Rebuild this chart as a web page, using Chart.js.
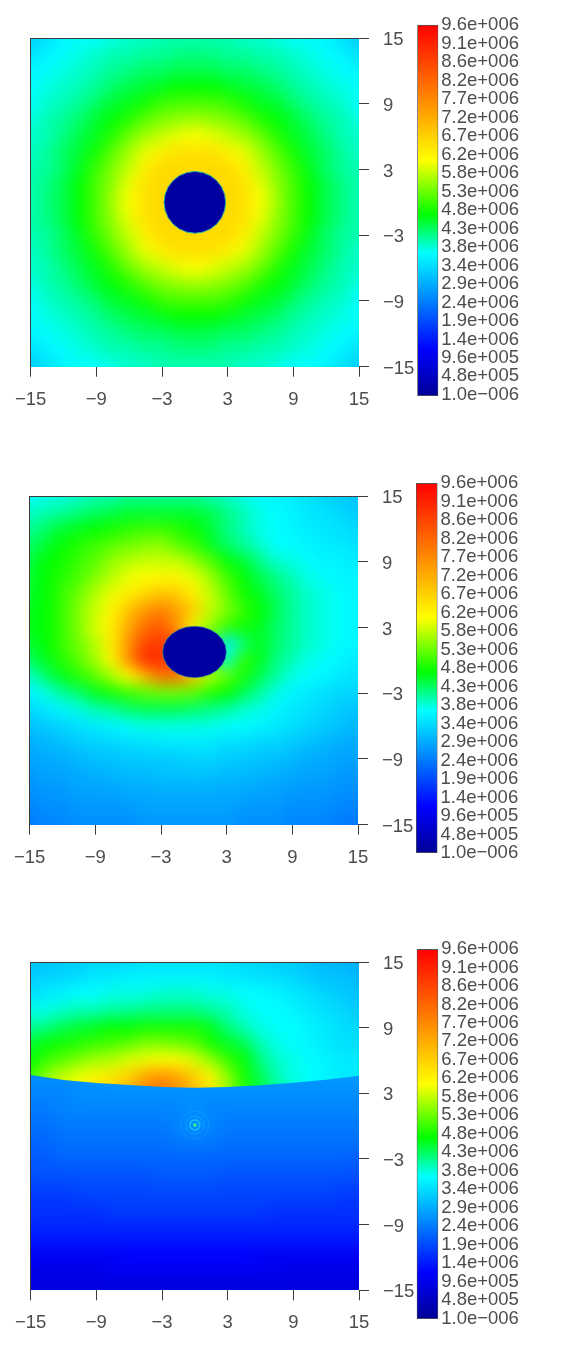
<!DOCTYPE html>
<html>
<head>
<meta charset="utf-8">
<style>
html,body{margin:0;padding:0;background:#fff;}
body{position:relative;width:562px;height:1363px;overflow:hidden;}
canvas{position:absolute;display:block;}
</style>
<script src="https://cdn.jsdelivr.net/npm/chart.js@4/dist/chart.umd.js"></script>
</head>
<body>
<script>
// Field values are in units of 1e5; rows run from the top (y=15) downwards, columns from x=-15 to x=15.
const xCoords = [-15,-13.5,-12,-10.5,-9,-7.5,-6,-4.5,-3,-1.5,0,1.5,3,4.5,6,7.5,9,10.5,12,13.5,15];
const yCoords = [15,13.5,12,10.5,9,7.5,6,4.5,3,1.5,0,-1.5,-3,-4.5,-6,-7.5,-9,-10.5,-12,-13.5,-15];
const tickValues = [-15,-9,-3,3,9,15];
const colorbarLabels = ["9.6e+006","9.1e+006","8.6e+006","8.2e+006","7.7e+006","7.2e+006","6.7e+006","6.2e+006","5.8e+006","5.3e+006","4.8e+006","4.3e+006","3.8e+006","3.4e+006","2.9e+006","2.4e+006","1.9e+006","1.4e+006","9.6e+005","4.8e+005","1.0e\u2212006"];
// value (1e5), r, g, b of the colour bar read from bottom to top
const colorStops = [[0,0,0,150],[12,0,0,255],[37,0,255,255],[47,0,255,0],[61,255,255,0],[78,255,128,0],[96,255,0,0]];

const panel1Rows = [
[32,34,36,37,37,38,39,39,40,40,40,40,40,39,39,38,37,37,36,34,32],
[34,36,37,38,39,40,40,41,41,42,42,42,41,41,40,40,39,38,37,36,34],
[36,37,38,39,40,41,42,43,43,44,44,44,43,43,42,41,40,39,38,37,36],
[37,38,39,40,41,43,44,45,46,47,47,47,46,45,44,43,41,40,39,38,37],
[37,39,40,41,43,45,46,48,50,51,51,51,50,48,46,45,43,41,40,39,37],
[38,40,41,43,45,47,49,52,54,55,56,55,54,52,49,47,45,43,41,40,38],
[39,40,42,44,46,49,53,56,58,60,61,60,58,56,53,49,46,44,42,40,39],
[39,41,43,45,48,52,56,60,63,65,65,65,63,60,56,52,48,45,43,41,39],
[40,41,43,46,50,54,58,63,66,66,66,66,66,63,58,54,50,46,43,41,40],
[40,42,44,47,51,55,60,65,66,66,66,66,66,65,60,55,51,47,44,42,40],
[40,42,44,47,51,56,61,65,66,66,66,66,66,65,61,56,51,47,44,42,40],
[40,42,44,47,51,55,60,65,66,66,66,66,66,65,60,55,51,47,44,42,40],
[40,41,43,46,50,54,58,63,66,66,66,66,66,63,58,54,50,46,43,41,40],
[39,41,43,45,48,52,56,60,63,65,65,65,63,60,56,52,48,45,43,41,39],
[39,40,42,44,46,49,53,56,58,60,61,60,58,56,53,49,46,44,42,40,39],
[38,40,41,43,45,47,49,52,54,55,56,55,54,52,49,47,45,43,41,40,38],
[37,39,40,41,43,45,46,48,50,51,51,51,50,48,46,45,43,41,40,39,37],
[37,38,39,40,41,43,44,45,46,47,47,47,46,45,44,43,41,40,39,38,37],
[36,37,38,39,40,41,42,43,43,44,44,44,43,43,42,41,40,39,38,37,36],
[34,36,37,38,39,40,40,41,41,42,42,42,41,41,40,40,39,38,37,36,34],
[32,34,36,37,37,38,39,39,40,40,40,40,40,39,39,38,37,37,36,34,32]
];
const panel2Rows = [
[37,38,38,39,40,40,41,41,41,41,41,40,39,38,37,36,35,34,33,32,31],
[39,40,41,42,43,44,45,45,45,45,45,44,42,40,38,37,36,35,34,33,32],
[41,43,45,46,47,48,49,50,50,49,47,45,42,40,38,37,36,35,35,34,33],
[43,45,47,49,50,52,53,54,55,52,50,46,43,41,39,37,37,36,35,35,34],
[44,47,48,50,52,55,57,58,58,58,55,52,47,45,42,39,38,37,36,36,35],
[45,47,49,51,54,57,60,61,62,62,60,56,51,47,44,42,40,38,37,36,36],
[45,47,50,53,57,60,63,66,69,68,63,58,53,48,46,43,41,39,38,37,36],
[46,47,50,54,58,62,69,75,78,74,68,58,54,50,47,44,41,39,38,37,36],
[46,47,50,54,59,63,72,80,84,75,60,55,50,48,46,43,41,39,38,37,36],
[45,47,50,53,57,63,75,86,88,85,70,50,35,42,46,43,41,39,38,37,36],
[43,46,49,52,56,62,75,90,90,85,70,50,38,50,46,42,40,38,37,36,35],
[39,43,46,49,52,56,61,70,80,80,70,57,53,48,44,41,38,37,36,35,34],
[36,38,41,43,46,48,50,52,53,53,52,49,47,44,41,38,36,35,34,33,33],
[33,35,36,38,40,41,43,44,44,44,43,42,41,39,38,36,35,34,33,32,31],
[31,32,33,34,35,36,37,38,38,38,38,38,37,37,36,35,34,33,32,31,30],
[29,30,31,32,33,33,34,34,35,35,35,35,34,34,33,33,32,31,30,29,29],
[28,29,29,30,31,31,32,32,32,32,33,33,32,32,31,31,30,29,29,28,28],
[27,28,28,29,29,30,30,30,31,31,31,31,30,30,30,29,29,28,28,27,27],
[26,27,27,28,28,28,29,29,29,29,29,29,29,29,28,28,27,27,27,26,26],
[25,26,26,27,27,27,27,28,28,28,28,28,28,27,27,27,26,26,26,25,25],
[24,25,25,26,26,26,26,27,27,27,27,27,27,26,26,26,25,25,25,24,24]
];
// Panel 3: the field above the shock arc (rows y=15 .. 1.5)
const panel3UpperRows = [
[31,31,32,32,33,33,33,34,34,34,34,34,34,33,33,32,32,31,30,30,29],
[32,33,33,34,35,35,36,36,36,36,36,36,35,35,34,34,33,32,31,31,30],
[34,35,36,37,37,38,38,38,39,39,39,38,38,37,37,36,35,34,33,32,31],
[38,38,39,40,40,41,41,42,42,42,42,41,40,38,37,37,36,35,34,33,32],
[41,42,44,45,46,47,47,48,48,48,48,46,42,40,38,37,37,36,35,34,33],
[45,47,48,49,50,51,52,54,54,53,52,48,46,44,40,38,37,36,35,34,34],
[47,50,52,54,56,57,59,60,61,61,59,55,50,47,42,39,38,37,36,35,35],
[50,55,58,60,62,64,67,73,76,73,68,62,55,48,44,40,38,37,36,35,35],
[52,57,60,62,65,68,72,78,80,76,70,64,56,49,45,41,39,37,36,35,35],
[52,57,60,62,65,68,72,78,80,76,70,64,56,49,45,41,39,37,36,35,35]
];
// Panel 3: the field below the shock arc (rows y=6 .. -15)
const panel3LowerRows = [
[26,26,26,26,27,27,27,27,27,27,27,27,27,27,27,27,27,27,27,27,27],
[26,26,26,26,26,27,27,27,27,27,27,27,27,27,27,27,27,27,27,27,27],
[25,25,25,26,26,26,26,26,26,26,26,26,26,26,26,26,26,26,26,26,26],
[24,24,25,25,25,25,25,25,25,25,26,25,25,25,25,25,25,25,25,25,25],
[23,23,24,24,24,24,24,24,24,25,26,25,24,24,24,24,24,24,24,24,24],
[22,22,23,23,23,23,23,23,23,24,24,24,23,23,23,23,23,23,23,23,23],
[21,21,22,22,22,22,22,22,22,22,22,22,22,22,22,22,22,22,22,22,21],
[20,20,20,20,20,20,20,20,21,21,21,21,20,20,20,20,20,20,20,20,20],
[18,18,18,19,19,19,19,19,19,19,19,19,19,19,19,19,19,19,19,18,18],
[17,17,17,17,17,18,18,18,18,18,18,18,18,18,18,17,17,17,17,17,17],
[16,16,16,16,16,16,16,16,16,16,16,16,16,16,16,16,16,16,16,16,16],
[14,14,14,14,14,14,14,14,14,14,14,14,14,14,14,14,14,14,14,14,14],
[11,11,11,11,11,11,12,12,12,12,12,12,12,12,11,11,11,11,11,11,11],
[9,9,9,9,9,10,10,10,10,10,10,10,10,10,10,10,9,9,9,9,9],
[8,8,8,8,8,8,8,8,8,8,8,8,8,8,8,8,8,8,8,8,8]
];
const disc1Outline = [[2.82,0],[2.72,.73],[2.44,1.41],[1.99,1.99],[1.41,2.44],[.73,2.72],[0,2.82],[-.73,2.72],[-1.41,2.44],[-1.99,1.99],[-2.44,1.41],[-2.72,.73],[-2.82,0],[-2.72,-.73],[-2.44,-1.41],[-1.99,-1.99],[-1.41,-2.44],[-.73,-2.72],[0,-2.82],[.73,-2.72],[1.41,-2.44],[1.99,-1.99],[2.44,-1.41],[2.72,-.73],[2.82,0]];
const disc2Outline = [[2.97,.76],[2.87,1.37],[2.58,1.94],[2.12,2.42],[1.52,2.80],[.81,3.03],[.06,3.11],[-.69,3.03],[-1.40,2.80],[-2.0,2.42],[-2.46,1.94],[-2.75,1.37],[-2.85,.76],[-2.75,.15],[-2.46,-.42],[-2.0,-.90],[-1.40,-1.28],[-.69,-1.51],[.06,-1.59],[.81,-1.51],[1.52,-1.28],[2.12,-.90],[2.58,-.42],[2.87,.15],[2.97,.76]];
const shockArc = [[-15,4.67],[-12,4.22],[-9,3.94],[-6,3.76],[-3,3.58],[0,3.52],[3,3.58],[6,3.73],[9,3.97],[12,4.25],[15,4.61]];
const targetPoint = [0,.1];

const FONT = {family:"'Liberation Sans', Arial, sans-serif", size:18.5};
const TEXT = '#4d4d4d', LINE = '#3c3c3c';
Chart.defaults.animation = false;

function colourOf(v){
  const s = colorStops;
  for(let i=1;i<s.length;i++){
    if(v<=s[i][0]){
      const a=s[i-1], b=s[i], t=(v-a[0])/(b[0]-a[0]);
      return 'rgb('+[1,2,3].map(k=>Math.round(a[k]+(b[k]-a[k])*t)).join(',')+')';
    }
  }
  return 'rgb(255,0,0)';
}
function cellData(rows, ys){
  return rows.flatMap((row,k)=>row.map((v,i)=>({x:xCoords[i],y:ys[k],v})));
}
function outlineData(list){ return list.map(p=>({x:p[0],y:p[1]})); }

function cellsDataset(rows, ys, order, extra){
  return Object.assign({
    type:'scatter', data:cellData(rows,ys), order, clip:false, smoothCells:true,
    pointStyle:'rect', pointBorderWidth:0,
    pointBackgroundColor:c=>c.raw?colourOf(c.raw.v):'#000',
    pointRadius:c=>{
      const sx=c.chart.scales.x;
      return (Math.abs(sx.getPixelForValue(1.5)-sx.getPixelForValue(0))+1.2)/Math.SQRT2;
    }
  },extra||{});
}
function discDataset(outline,edgeColour){
  return {type:'line', data:outlineData(outline), order:1, fill:'shape',
    backgroundColor:'#0000a0', borderColor:edgeColour, borderWidth:1, pointRadius:0, tension:0};
}

const labelShift = {
  id:'labelShift',
  beforeDraw(chart,args,opts){
    const s=chart.scales.y;
    if(s.$shifted) return;
    s.getLabelItems().forEach(it=>{it.options.translation[1]+=opts.dy||0;});
    s.$shifted=true;
  }
};

const fieldPlugin = {
  id:'fieldPlugin',
  afterDatasetDraw(chart,args){
    const ds = chart.data.datasets[args.index];
    if(!ds.smoothCells) return;
    const a = chart.chartArea, c = chart.ctx, m=12;
    const x0=Math.floor(a.left)-m, y0=Math.floor(a.top)-m, w=Math.ceil(a.width)+2*m+1, h=Math.ceil(a.height)+2*m+1;
    c.save();
    c.beginPath(); c.rect(a.left,a.top,a.width,a.height); c.clip();
    c.filter='blur(7.5px)';
    c.drawImage(chart.canvas,x0,y0,w,h,x0,y0,w,h);
    c.filter='none';
    if(ds.keepForAbove){
      const s=document.createElement('canvas'); s.width=w; s.height=h;
      s.getContext('2d').drawImage(chart.canvas,x0,y0,w,h,0,0,w,h);
      chart.$kept={s,x0,y0};
    }
    if(ds.pasteAbove && chart.$kept){
      const sx=chart.scales.x, sy=chart.scales.y;
      c.beginPath();
      ds.pasteAbove.forEach((p,i)=>{
        const px=sx.getPixelForValue(p[0]), py=sy.getPixelForValue(p[1]);
        if(i===0) c.moveTo(px,py); else c.lineTo(px,py);
      });
      c.lineTo(a.right+2,a.top-2); c.lineTo(a.left-2,a.top-2); c.closePath(); c.clip();
      c.drawImage(chart.$kept.s,chart.$kept.x0,chart.$kept.y0);
    }
    c.restore();
    // remove the half cells that overflow the plot area
    c.clearRect(x0,y0,w,a.top-y0);
    c.clearRect(x0,a.bottom,w,y0+h-a.bottom);
    c.clearRect(x0,y0,a.left-x0,h);
    c.clearRect(a.right,y0,x0+w-a.right,h);
  }
};

function plotPanel(box, datasets){
  const cv=document.createElement('canvas');
  const top=box.top-30, H=400;
  cv.style.left='0px'; cv.style.top=top+'px';
  cv.style.width='420px'; cv.style.height=H+'px';
  cv.width=420; cv.height=H;
  document.body.appendChild(cv);
  const edge={display:true,color:LINE,width:1,z:2};
  const tickCb=v=>v<0?'\u2212'+Math.abs(v):String(v);
  const fixed=list=>s=>{s.ticks=list.map(v=>({value:v}));};
  return new Chart(cv,{
    type:'scatter',
    data:{datasets},
    plugins:[fieldPlugin,labelShift],
    options:{
      responsive:false, animation:false, events:[],
      layout:{padding:{left:box.left,top:30,right:420-box.right-61,bottom:0}},
      plugins:{legend:{display:false},tooltip:{enabled:false},labelShift:{dy:2}},
      scales:{
        x:{type:'linear',position:'bottom',min:-15,max:15,
          afterBuildTicks:fixed(tickValues),
          afterFit:s=>{s.height=H-30-(box.bottom-box.top);},
          border:{display:false},
          grid:{drawOnChartArea:false,tickLength:10,color:LINE,tickColor:LINE,z:1},
          ticks:{font:FONT,color:TEXT,padding:12,maxRotation:0,autoSkip:false,callback:tickCb,z:1}},
        y:{type:'linear',position:'right',min:-15,max:15,
          afterBuildTicks:fixed(tickValues),
          afterFit:s=>{s.width=61;},
          border:{display:false},
          grid:{drawOnChartArea:false,tickLength:10,color:LINE,tickColor:LINE,z:1},
          ticks:{font:FONT,color:TEXT,padding:14,autoSkip:false,callback:tickCb,z:1}},
        xEdge:{type:'linear',position:'top',min:-15,max:15,
          afterFit:s=>{s.height=0;},
          border:edge,grid:{display:false,drawTicks:false},ticks:{display:false}},
        yEdge:{type:'linear',position:'left',min:-15,max:15,
          afterFit:s=>{s.width=0;},
          border:edge,grid:{display:false,drawTicks:false},ticks:{display:false}}
      }
    }
  });
}

function colourBar(box){
  const unit=(box.labelBottom-box.labelTop)/20;
  const high=20-(box.barTop-box.labelTop)/unit;
  const lowV=-(box.barBottom-box.labelBottom)/unit;
  const pad=14;
  const cv=document.createElement('canvas');
  const H=Math.ceil(box.barBottom-box.labelTop)+pad*2;
  const cLeft=Math.floor(box.barLeft), padL=box.barLeft-cLeft;
  cv.style.left=cLeft+'px'; cv.style.top=Math.floor(box.labelTop-pad)+'px';
  cv.style.width='145px'; cv.style.height=H+'px';
  cv.width=145; cv.height=H;
  document.body.appendChild(cv);
  const padT=box.labelTop-Math.floor(box.labelTop-pad);
  return new Chart(cv,{
    type:'bar',
    data:{labels:['level'],datasets:[{
      data:[[lowV,high]],
      barPercentage:1,categoryPercentage:1,
      borderWidth:1,borderColor:'#555',borderSkipped:false,
      backgroundColor:c=>{
        const s=c.chart.scales.y;
        const p0=s.getPixelForValue(lowV), p1=s.getPixelForValue(high);
        if(!isFinite(p0)||!isFinite(p1)) return '#00f';
        const g=c.chart.ctx.createLinearGradient(0,p0,0,p1);
        colorStops.forEach(st=>g.addColorStop(st[0]/96,'rgb('+st[1]+','+st[2]+','+st[3]+')'));
        return g;
      }
    }]},
    plugins:[labelShift],
    options:{
      responsive:false, animation:false, events:[],
      layout:{padding:{left:padL,top:padT,right:0,bottom:H-padT-(box.barBottom-box.labelTop)}},
      plugins:{legend:{display:false},tooltip:{enabled:false},labelShift:{dy:1.7}},
      scales:{
        x:{type:'category',display:false},
        y:{type:'linear',position:'right',min:lowV,max:20,
          afterBuildTicks:s=>{s.ticks=colorbarLabels.map((_,i)=>({value:i}));},
          afterFit:s=>{s.width=145-padL-box.barWidth;},
          border:{display:false},
          grid:{display:false,drawTicks:false},
          ticks:{font:FONT,color:TEXT,padding:3,autoSkip:false,callback:v=>colorbarLabels[20-v]}}
      }
    }
  });
}

plotPanel({left:30.7,right:359,top:38,bottom:366.7},[discDataset(disc1Outline,'#2fb4a0'),cellsDataset(panel1Rows,yCoords,2)]);
plotPanel({left:29.7,right:358,top:495.7,bottom:824.3},[discDataset(disc2Outline,'rgba(47,150,160,.6)'),cellsDataset(panel2Rows,yCoords,2)]);
plotPanel({left:30.7,right:359,top:962,bottom:1290.3},[
  {type:'scatter',data:[{x:targetPoint[0],y:targetPoint[1]},{x:targetPoint[0],y:targetPoint[1]},{x:targetPoint[0],y:targetPoint[1]},{x:targetPoint[0],y:targetPoint[1]}],
   order:1,pointStyle:'circle',pointRadius:[14,9,5,2],pointBorderWidth:[1,1,1.5,0],
   pointBorderColor:['rgba(60,190,255,.2)','rgba(60,200,255,.3)','rgba(40,230,240,.6)','#30e8a0'],
   pointBackgroundColor:['transparent','transparent','transparent','#30e8a0']},
  cellsDataset(panel3LowerRows,yCoords.slice(6),2,{pasteAbove:shockArc}),
  cellsDataset(panel3UpperRows,yCoords.slice(0,10),3,{keepForAbove:true})
]);
colourBar({labelTop:23.3,labelBottom:393.3,barTop:25,barBottom:396,barLeft:417.3,barWidth:21});
colourBar({labelTop:481.7,labelBottom:851.7,barTop:483.3,barBottom:853.3,barLeft:416,barWidth:21.5});
colourBar({labelTop:947.3,labelBottom:1317.3,barTop:949.3,barBottom:1319.3,barLeft:416.7,barWidth:21.5});
</script>
</body>
</html>
